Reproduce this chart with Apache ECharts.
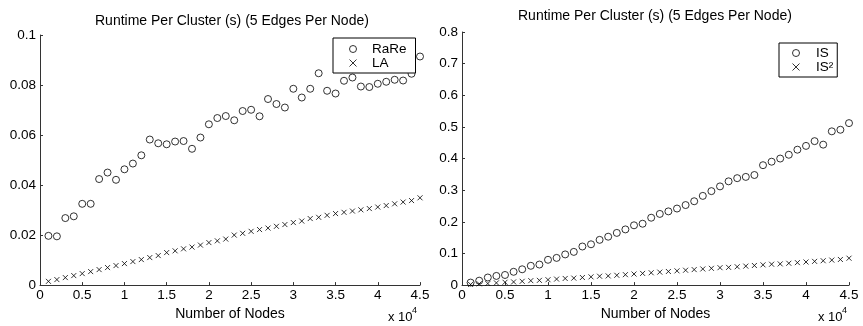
<!DOCTYPE html>
<html>
<head>
<meta charset="utf-8">
<title>Runtime Per Cluster</title>
<script src="https://cdn.jsdelivr.net/npm/echarts@6/dist/echarts.min.js"></script>
<style>
  html, body { margin: 0; padding: 0; background: #fff; }
  #chart { width: 863px; height: 326px; }
</style>
</head>
<body>
<div id="chart"></div>
<script>
// number of nodes (x axis, shown in units of 10^4)
var nodes = [1000, 2000, 3000, 4000, 5000, 6000, 7000, 8000, 9000, 10000,
  11000, 12000, 13000, 14000, 15000, 16000, 17000, 18000, 19000, 20000,
  21000, 22000, 23000, 24000, 25000, 26000, 27000, 28000, 29000, 30000,
  31000, 32000, 33000, 34000, 35000, 36000, 37000, 38000, 39000, 40000,
  41000, 42000, 43000, 44000, 45000];

// left panel
var rare = [0.0197, 0.0195, 0.0268, 0.0275, 0.0325, 0.0325, 0.0424, 0.0450, 0.0421, 0.0463,
  0.0486, 0.0519, 0.0582, 0.0567, 0.0563, 0.0574, 0.0576, 0.0545, 0.0590, 0.0643,
  0.0668, 0.0676, 0.0659, 0.0696, 0.0701, 0.0675, 0.0744, 0.0724, 0.0710, 0.0785,
  0.0750, 0.0785, 0.0847, 0.0777, 0.0766, 0.0817, 0.0830, 0.0794, 0.0792, 0.0805,
  0.0813, 0.0821, 0.0818, 0.0845, 0.0914];
var la = [0.0015, 0.0022, 0.0030, 0.0038, 0.0046, 0.0054, 0.0062, 0.0070, 0.0078, 0.0086,
  0.0094, 0.0102, 0.0110, 0.0118, 0.0130, 0.0137, 0.0145, 0.0152, 0.0160, 0.0170,
  0.0177, 0.0184, 0.0200, 0.0207, 0.0215, 0.0222, 0.0228, 0.0235, 0.0242, 0.0250,
  0.0256, 0.0266, 0.0271, 0.0279, 0.0286, 0.0291, 0.0296, 0.0301, 0.0306, 0.0312,
  0.0318, 0.0325, 0.0332, 0.0338, 0.0349];

// right panel
var is1 = [0.008, 0.014, 0.024, 0.029, 0.032, 0.042, 0.050, 0.061, 0.065, 0.080,
  0.086, 0.097, 0.105, 0.122, 0.129, 0.143, 0.153, 0.165, 0.176, 0.189,
  0.194, 0.213, 0.225, 0.233, 0.242, 0.253, 0.265, 0.282, 0.297, 0.312,
  0.328, 0.338, 0.342, 0.348, 0.379, 0.390, 0.400, 0.412, 0.428, 0.440,
  0.455, 0.444, 0.486, 0.491, 0.512];
var is2 = [0.002, 0.004, 0.005, 0.007, 0.009, 0.010, 0.012, 0.014, 0.015, 0.017,
  0.019, 0.021, 0.022, 0.024, 0.026, 0.028, 0.029, 0.031, 0.033, 0.035,
  0.037, 0.039, 0.041, 0.043, 0.045, 0.047, 0.049, 0.051, 0.053, 0.055,
  0.056, 0.058, 0.060, 0.062, 0.064, 0.066, 0.067, 0.069, 0.071, 0.073,
  0.075, 0.077, 0.079, 0.081, 0.085];

var titleText = 'Runtime Per Cluster (s) (5 Edges Per Node)';
var font = 'Liberation Sans';
var cross = 'path://M0,0L10,10M10,0L0,10';

function pairs(ys) {
  return nodes.map(function (x, i) { return [x, ys[i]]; });
}

function xAxis(grid) {
  return {
    type: 'value', gridIndex: grid, min: 0, max: 45000, interval: 5000,
    name: 'Number of Nodes', nameLocation: 'middle', nameGap: 18,
    nameTextStyle: { fontFamily: font, fontSize: 14, color: '#000' },
    axisLine: { show: true, onZero: false, lineStyle: { color: '#333', width: 1 } },
    axisTick: { show: true, inside: true, length: 3, lineStyle: { color: '#333' } },
    axisLabel: { fontFamily: font, fontSize: 13.5, color: '#000', margin: 3,
      formatter: function (v) { return String(v / 10000); } },
    splitLine: { show: false }
  };
}

function yAxis(grid, max, step) {
  return {
    type: 'value', gridIndex: grid, min: 0, max: max, interval: step,
    axisLine: { show: true, lineStyle: { color: '#333', width: 1 } },
    axisTick: { show: true, inside: true, length: 3, lineStyle: { color: '#333' } },
    axisLabel: { fontFamily: font, fontSize: 13.5, color: '#000', margin: 4,
      formatter: function (v) { return String(Math.round(v * 100) / 100); } },
    splitLine: { show: false }
  };
}

function circles(name, idx, ys) {
  return {
    name: name, type: 'scatter', xAxisIndex: idx, yAxisIndex: idx,
    symbol: 'circle', symbolSize: 7,
    itemStyle: { color: 'rgba(0,0,0,0)', borderColor: '#000', borderWidth: 1 },
    emphasis: { disabled: true },
    data: pairs(ys)
  };
}

function crosses(name, idx, ys) {
  return {
    name: name, type: 'scatter', xAxisIndex: idx, yAxisIndex: idx,
    symbol: cross, symbolSize: 5, symbolKeepAspect: true,
    itemStyle: { color: 'rgba(0,0,0,0)', borderColor: '#000', borderWidth: 1 },
    emphasis: { disabled: true },
    data: pairs(ys)
  };
}

var legendItemStyle = { color: 'rgba(0,0,0,0)', borderColor: '#000', borderWidth: 1 };

var myChart = echarts.init(document.getElementById('chart'));
myChart.setOption({
  animation: false,
  backgroundColor: '#fff',
  title: [
    { text: titleText, left: 95, top: 14, padding: 0,
      textStyle: { fontFamily: font, fontSize: 14, fontWeight: 'normal', color: '#000' } },
    { text: titleText, left: 518, top: 9, padding: 0,
      textStyle: { fontFamily: font, fontSize: 14, fontWeight: 'normal', color: '#000' } }
  ],
  legend: [
    { data: ['RaRe', 'LA'], orient: 'vertical', left: 333, top: 38,
      itemWidth: 28, itemHeight: 7, itemGap: 0, padding: [4, 9, 3, 16],
      itemStyle: legendItemStyle,
      borderColor: '#000', borderWidth: 1, backgroundColor: '#fff', selectedMode: false,
      textStyle: { fontFamily: font, fontSize: 13.5, lineHeight: 14, color: '#000' } },
    { data: ['IS', 'IS²'], orient: 'vertical', left: 779, top: 43,
      itemWidth: 30, itemHeight: 7, itemGap: 0, padding: [3, 4, 3, 13],
      itemStyle: legendItemStyle,
      borderColor: '#000', borderWidth: 1, backgroundColor: '#fff', selectedMode: false,
      textStyle: { fontFamily: font, fontSize: 13.5, lineHeight: 11, color: '#000' } }
  ],
  grid: [
    { left: 40, top: 35, width: 380, height: 251 },
    { left: 462, top: 32, width: 387, height: 254 }
  ],
  xAxis: [xAxis(0), xAxis(1)],
  yAxis: [yAxis(0, 0.1, 0.02), yAxis(1, 0.8, 0.1)],
  graphic: [
    { type: 'text', left: 388, top: 311, style: { text: 'x 10', fontFamily: font, fontSize: 13, fill: '#000' } },
    { type: 'text', left: 412, top: 306, style: { text: '4', fontFamily: font, fontSize: 9, fill: '#000' } },
    { type: 'text', left: 818, top: 311, style: { text: 'x 10', fontFamily: font, fontSize: 13, fill: '#000' } },
    { type: 'text', left: 842, top: 306, style: { text: '4', fontFamily: font, fontSize: 9, fill: '#000' } }
  ],
  series: [
    circles('RaRe', 0, rare),
    crosses('LA', 0, la),
    circles('IS', 1, is1),
    crosses('IS²', 1, is2)
  ]
});
</script>
</body>
</html>
